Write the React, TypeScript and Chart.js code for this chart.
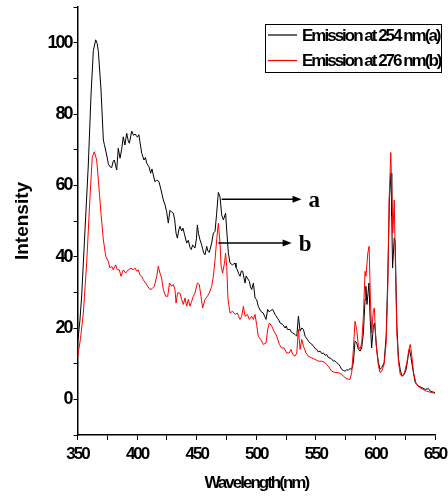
import React, { useEffect, useRef } from 'react';
import { Chart, registerables } from 'chart.js';

Chart.register(...registerables);

// Series (a): emission at 254 nm
const wavelengthA = [
  350, 352, 353.5, 356.3, 359.1, 361.3, 363.3, 365.3, 366.5, 367.5,
  369.7, 371.7, 372.5, 374.5, 375.9, 377.3, 378.7, 380, 380.9, 382.9,
  384.2, 385.7, 387, 388.4, 389.8, 391.3, 392.6, 393.5, 395.5, 397,
  398.3, 400.3, 401.5, 402.4, 403.9, 405.8, 407, 408.1, 410, 411.4,
  412.5, 413.6, 415, 416.5, 418.4, 420.1, 422, 423.5, 424.8, 426.2,
  427.6, 429, 430.4, 431.5, 432.7, 433.8, 435, 436, 437.4, 438.5,
  439.7, 441.6, 443, 444.4, 445.5, 446.6, 448.6, 449.8, 450.6, 451.5,
  452.8, 454, 455, 456, 457, 458.4, 459.5, 460.6, 462.6, 464,
  465.4, 466.8, 468.2, 469.6, 471, 472.4, 474.3, 475.2, 476.6, 478,
  480, 482.2, 483, 484.1, 485.3, 486.4, 487.5, 488.6, 490.6, 491.5,
  492.5, 494.2, 495.2, 496.2, 497.6, 499, 500.3, 501.7, 503.7, 505.9,
  507, 508.2, 509.6, 511, 512.1, 513.8, 515.8, 517.7, 519, 520,
  522.2, 524.2, 525.2, 526.1, 528.4, 529.5, 530.6, 532.5, 534, 535.4,
  536.8, 538.2, 539.6, 541, 542.9, 544, 545.2, 546.5, 548, 549.5,
  550.8, 552, 553.6, 555, 556.4, 557.8, 559.1, 560.5, 561.9, 563.2,
  564.7, 566, 567.5, 569, 570.3, 571.7, 573, 574.5, 576, 577.3,
  578.7, 580.1, 581.5, 582.9, 584.3, 585.7, 587.1, 588.5, 589.9, 591.3,
  592, 592.9, 594.6, 595.5, 596.8, 598.3, 599.3, 601.1, 602.5, 603.9,
  605.3, 607.3, 609, 610.4, 611.8, 613.1, 613.7, 614.4, 615.8, 616.6,
  618, 619.4, 620.8, 622.2, 624.2, 625.8, 627.5, 628.6, 629.7, 631.4,
  633.4, 636.2, 639, 641.8, 644.6, 646, 648.8, 650,
];
const intensityA = [
  15.5, 22, 29, 47.5, 66, 85, 97.8, 100.8, 99.8, 97.5,
  87, 72.7, 71.5, 68.5, 66, 65.2, 65, 66.8, 67.1, 64.3,
  70.4, 67.6, 70, 73.6, 71.3, 74.6, 72.5, 71.8, 75.2, 74,
  74.4, 73.5, 74.2, 72.2, 69, 67.1, 67.8, 66.2, 65.2, 63.4,
  64.6, 62.9, 61, 61.5, 61, 58.7, 55.9, 54.5, 52.6, 49.4,
  53, 52.5, 52.2, 50.5, 46.6, 45.2, 47.5, 48.5, 47.2, 48,
  46.4, 43.8, 44.6, 42.6, 42, 43.3, 42.4, 45, 48.9, 46.5,
  44.7, 43.5, 42.2, 41, 40.5, 42.9, 41.5, 41.2, 43.8, 46.6,
  47.1, 52.2, 58, 56.8, 51.7, 50.3, 52.2, 47.5, 41, 38.2,
  37.7, 38.2, 37, 36.3, 35.2, 34.5, 36, 35.9, 32.6, 34.6,
  34, 33.1, 31.5, 30.8, 32.6, 28.4, 28, 26.1, 24.7, 24.2,
  23.3, 22.4, 25.2, 24.5, 24.9, 25.2, 23.8, 22.8, 22.2, 21.4,
  21, 20, 20.6, 19.6, 19.6, 18.8, 18.6, 18.2, 17.7, 23.3,
  19.1, 20, 19.6, 17.7, 16.8, 16.2, 15.8, 15.5, 14.9, 14.2,
  14, 13.3, 13.5, 12.8, 13, 12.3, 12.6, 11.7, 11.6, 11.3,
  10.7, 10.8, 10.3, 9.9, 9.3, 8.4, 8.1, 7.9, 8.3, 8.2,
  8.6, 8.4, 10.3, 16.3, 15.8, 14, 13.5, 14.4, 18.6, 28,
  31.7, 26.6, 32.6, 23.3, 14.4, 20.5, 21.4, 14, 10.3, 8.4,
  8.9, 10.3, 17.7, 34.5, 56.8, 63.4, 51.3, 36.8, 45.2, 44,
  20.5, 11.2, 8.4, 6.5, 7, 8.4, 12.1, 14, 12.1, 8.4,
  4.7, 3.7, 3.3, 2.8, 3, 2.3, 2, 1.9,
];

// Series (b): emission at 276 nm
const wavelengthB = [
  350, 352.5, 354.9, 357.7, 360.5, 362.4, 364.1, 366.1, 367.5, 369.7,
  371.7, 373.7, 375.8, 377.3, 378.7, 380, 382, 383.4, 385.1, 386.5,
  388.4, 390.4, 392.6, 394.9, 396.8, 398.3, 399.7, 401, 402.4, 403.9,
  405.2, 407.2, 408.9, 410.8, 412.5, 414.5, 416.5, 417.8, 419.2, 420.6,
  422, 424, 425.7, 427.2, 429, 430.4, 431.8, 432.7, 434, 436,
  437.4, 438.8, 440.2, 441.6, 443, 444.4, 445.8, 447.2, 448.6, 450.6,
  452.2, 453.6, 455, 457, 459, 460.6, 462.6, 464, 465.4, 466.8,
  468.2, 469.6, 470.5, 471.8, 473.3, 474.3, 475.2, 476.3, 478, 480.2,
  482.2, 484.1, 486.4, 487.8, 489.2, 490.6, 492.5, 494.2, 496.2, 497.6,
  499, 500.3, 501.7, 503.7, 505.9, 508.2, 509.6, 511, 513, 514.9,
  517.2, 519.4, 521.3, 523.3, 525.6, 527.8, 529.2, 530.6, 532.5, 534,
  535.4, 536.8, 538.2, 539.6, 541.8, 543.7, 546.5, 549.3, 552.1, 554.9,
  557.7, 560.5, 563.3, 566.1, 568.9, 571.7, 574.5, 577.3, 578.7, 580.1,
  581.5, 582.9, 584.3, 585.7, 587.1, 588.5, 589.9, 591.3, 592.1, 593.6,
  594.7, 595.8, 596.9, 598.3, 599.1, 600.5, 602.5, 603.9, 605.3, 607.3,
  609, 610.4, 611.5, 612.9, 613.7, 614.6, 615.8, 616.8, 618, 619.4,
  620.8, 622.7, 624.4, 626.4, 628.1, 629.2, 630.3, 632, 634.3, 637.1,
  639.9, 642.7, 646, 650,
];
const intensityB = [
  11.6, 17, 24.2, 38.2, 56.8, 68, 69.4, 67.1, 61.5, 52.2,
  44.7, 40.1, 38.7, 36.8, 37.3, 36.3, 37.7, 36.3, 36.3, 34.5,
  36.3, 35.4, 36.3, 36.8, 36.3, 36.8, 35.9, 36.3, 34.9, 34.5,
  33.5, 32.6, 31.7, 30.8, 31, 31.7, 34.5, 37.3, 35.4, 34,
  30.8, 28.9, 28.9, 32.6, 31.7, 32.2, 30.8, 27, 29.8, 29.8,
  28, 26.6, 28.4, 26.1, 28, 26.1, 27.5, 28.9, 29.8, 32.6,
  32.2, 28.9, 25.6, 28, 28.9, 29.8, 31.7, 34.5, 39.1, 44.7,
  49.4, 43.8, 37.3, 35.4, 38.2, 41, 37.3, 28, 24.2, 24.7,
  23.8, 24.2, 22.4, 23.3, 26.1, 23.3, 23.8, 22.4, 23.3, 22.4,
  23.8, 21, 17.7, 16.8, 15.4, 15.8, 19.6, 21.4, 20.5, 19.1,
  17.7, 15.4, 14.4, 14.4, 13, 13, 14, 12.6, 12.1, 13,
  19.6, 14, 16.8, 14.9, 13, 12.1, 11.6, 11.2, 10.7, 10.7,
  10.3, 9.3, 7.9, 7.5, 7.5, 7, 6.1, 5.6, 5.6, 7.5,
  14, 21.9, 19.6, 14.9, 14, 15.8, 23.3, 35.9, 34.5, 41,
  42.9, 28, 18.6, 25.2, 25.6, 15.8, 9.3, 7.5, 7.9, 9.8,
  15.8, 31.7, 55.9, 69.2, 58.7, 46.6, 55.9, 37.3, 18.6, 10.3,
  7, 6.5, 7.5, 10.3, 14, 15.4, 13, 7.5, 4.2, 3.3,
  2.8, 2.3, 2, 1.7,
];

const seriesLabels = ['Emission at 254 nm(a)', 'Emission at 276 nm(b)'];
const seriesColors = ['#000000', '#ff0000'];

const xTickValues = [350, 375, 400, 425, 450, 475, 500, 525, 550, 575, 600, 625, 650];
const yTickValues = [-10, 0, 10, 20, 30, 40, 50, 60, 70, 80, 90, 100, 110];
const xTitle = 'Wavelength(nm)';
const yTitle = 'Intensity';

// Arrow annotations (data units)
const arrowLabels = ['a', 'b'];
const arrowFromX = [471, 468.2];
const arrowToX = [538, 529.7];
const arrowY = [56.1, 43.8];

const SANS = "'Liberation Sans', Arial, sans-serif";
const SERIF = "'Liberation Serif', 'Times New Roman', serif";

// Tight (squeezed) lettering like the original figure
const tightTextPlugin = {
  id: 'tightText',
  beforeDraw(chart: any) {
    (chart.ctx as any).letterSpacing = '-2px';
  },
  afterDraw(chart: any) {
    (chart.ctx as any).letterSpacing = '0px';
  },
};

const yTitlePlugin = {
  id: 'yTitle',
  afterDraw(chart: any) {
    const { ctx, chartArea } = chart;
    ctx.save();
    (ctx as any).letterSpacing = '0px';
    ctx.translate(23, (chartArea.top + chartArea.bottom) / 2);
    ctx.rotate(-Math.PI / 2);
    ctx.font = `bold 19px ${SANS}`;
    ctx.fillStyle = '#000';
    ctx.textAlign = 'center';
    ctx.textBaseline = 'middle';
    ctx.fillText(yTitle, 0, 0);
    ctx.restore();
  },
};

const legendBoxPlugin = {
  id: 'legendBox',
  afterDraw(chart: any) {
    const { ctx, chartArea } = chart;
    const w = 176;
    const h = 48;
    const right = chartArea.right + 6;
    const left = right - w;
    const top = chartArea.top + 17;
    ctx.save();
    (ctx as any).letterSpacing = '-2px';
    ctx.strokeStyle = '#000';
    ctx.lineWidth = 1;
    ctx.strokeRect(Math.round(left) + 0.5, Math.round(top) + 0.5, w, h);
    chart.data.datasets.forEach((ds: any, i: number) => {
      const y = top + 11 + i * 25.5;
      ctx.strokeStyle = ds.borderColor;
      ctx.lineWidth = 1.2;
      ctx.beginPath();
      ctx.moveTo(left + 3, y);
      ctx.lineTo(left + 32, y);
      ctx.stroke();
      ctx.fillStyle = '#000';
      ctx.font = `bold 17px ${SANS}`;
      ctx.textBaseline = 'middle';
      ctx.textAlign = 'left';
      ctx.fillText(ds.label, left + 37, y + 1);
    });
    ctx.restore();
  },
};

const arrowPlugin = {
  id: 'arrows',
  afterDatasetsDraw(chart: any) {
    const { ctx, scales } = chart;
    const xs = scales.x;
    const ys = scales.y;
    ctx.save();
    (ctx as any).letterSpacing = '0px';
    arrowLabels.forEach((lab, i) => {
      const x0 = xs.getPixelForValue(arrowFromX[i]);
      const x1 = xs.getPixelForValue(arrowToX[i]);
      const y = ys.getPixelForValue(arrowY[i]);
      ctx.strokeStyle = '#000';
      ctx.fillStyle = '#000';
      ctx.lineWidth = 1.5;
      ctx.beginPath();
      ctx.moveTo(x0, y);
      ctx.lineTo(x1 - 6, y);
      ctx.stroke();
      ctx.beginPath();
      ctx.moveTo(x1, y);
      ctx.lineTo(x1 - 9, y - 3.5);
      ctx.lineTo(x1 - 9, y + 3.5);
      ctx.closePath();
      ctx.fill();
      ctx.font = `bold 23px ${SERIF}`;
      ctx.textBaseline = 'alphabetic';
      ctx.textAlign = 'left';
      ctx.fillText(lab, x1 + 7, y + 8);
    });
    ctx.restore();
  },
};

export default function App() {
  const canvasRef = useRef<HTMLCanvasElement>(null);

  useEffect(() => {
    const canvas = canvasRef.current;
    if (!canvas) return;
    const chart = new Chart(canvas, {
      type: 'line',
      data: {
        datasets: [
          {
            label: seriesLabels[0],
            data: wavelengthA.map((x, i) => ({ x, y: intensityA[i] })),
            borderColor: seriesColors[0],
            backgroundColor: seriesColors[0],
            borderWidth: 1,
            pointRadius: 0,
            fill: false,
            order: 2,
          },
          {
            label: seriesLabels[1],
            data: wavelengthB.map((x, i) => ({ x, y: intensityB[i] })),
            borderColor: seriesColors[1],
            backgroundColor: seriesColors[1],
            borderWidth: 1,
            pointRadius: 0,
            fill: false,
            order: 1,
          },
        ],
      },
      options: {
        responsive: false,
        animation: false,
        layout: { padding: { left: 0, right: 13, top: 7, bottom: 0 } },
        plugins: {
          legend: { display: false },
          tooltip: { enabled: false },
        },
        scales: {
          x: {
            type: 'linear',
            min: 350,
            max: 650,
            afterBuildTicks: (s: any) => {
              s.ticks = xTickValues.map((v) => ({ value: v }));
            },
            afterFit: (s: any) => {
              s.height = 63;
              s.paddingLeft = 0;
              s.paddingRight = 0;
            },
            ticks: {
              autoSkip: false,
              maxRotation: 0,
              color: '#000',
              padding: 4,
              font: { family: SANS, size: 17, weight: 'bold' },
              callback: (v: any) => (Number(v) % 50 === 0 ? String(v) : ''),
            },
            grid: {
              display: true,
              drawOnChartArea: false,
              drawTicks: true,
              tickLength: 5,
              color: '#000',
              lineWidth: 1,
            },
            border: { display: true, color: '#000', width: 1.5 },
            title: {
              display: true,
              text: xTitle,
              color: '#000',
              font: { family: SANS, size: 17, weight: 'bold' },
              padding: { top: 0, bottom: 4 },
            },
          },
          y: {
            type: 'linear',
            min: -10,
            max: 110,
            afterBuildTicks: (s: any) => {
              s.ticks = yTickValues.map((v) => ({ value: v }));
            },
            afterFit: (s: any) => {
              s.width = 77.5;
              s.paddingTop = 0;
              s.paddingBottom = 0;
            },
            ticks: {
              autoSkip: false,
              color: '#000',
              padding: 2,
              font: { family: SANS, size: 18, weight: 'bold' },
              callback: (v: any) => (Number(v) % 20 === 0 && Number(v) >= 0 ? String(v) : ''),
            },
            grid: {
              display: true,
              drawOnChartArea: false,
              drawTicks: true,
              tickLength: 4,
              color: '#000',
              lineWidth: 1,
            },
            border: { display: true, color: '#000', width: 1.5 },
            title: { display: false },
          },
        },
      },
      plugins: [tightTextPlugin, legendBoxPlugin, arrowPlugin, yTitlePlugin],
    } as any);
    return () => chart.destroy();
  }, []);

  return (
    <div style={{ position: 'fixed', left: 0, top: 0, width: 448, height: 498, background: '#fff' }}>
      <canvas ref={canvasRef} width={448} height={498} style={{ display: 'block' }} />
    </div>
  );
}
